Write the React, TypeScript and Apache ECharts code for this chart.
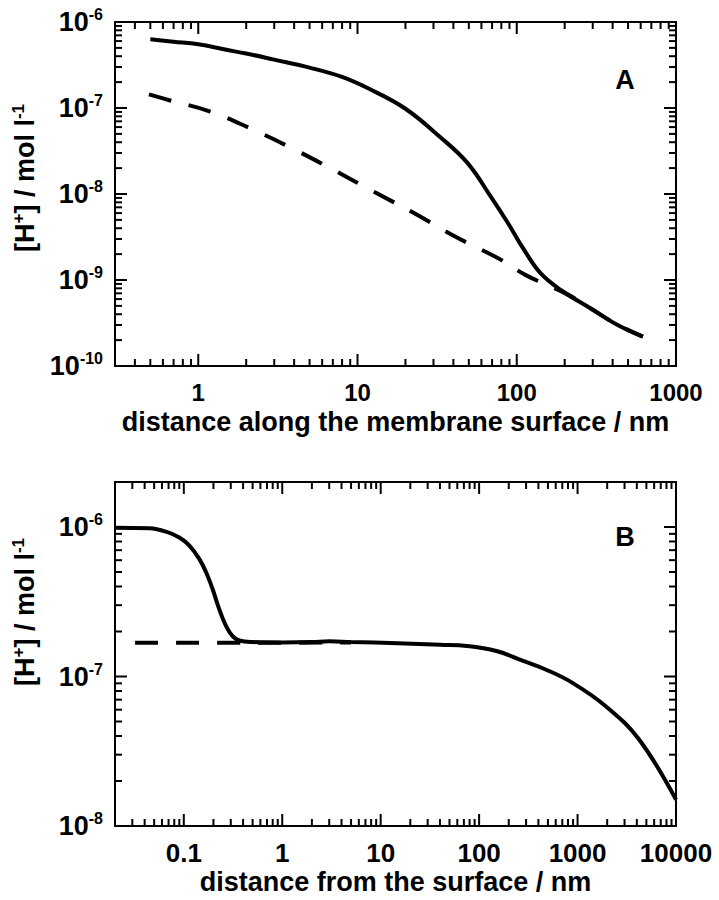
import React, { useEffect, useRef } from "react";
import * as echarts from "echarts";

const FONT = '"Liberation Sans", Arial, Helvetica, sans-serif';

// Panel A: distance along the membrane surface (nm) vs [H+] (mol/l)
const aSolidX = [0.5, 0.7, 1, 1.5, 2, 3, 5, 8, 12, 20, 33, 49, 69, 88, 111, 141, 190, 290, 430, 620];
const aSolidY = [6.3e-7, 5.9e-7, 5.5e-7, 4.75e-7, 4.3e-7, 3.65e-7, 2.95e-7, 2.3e-7, 1.65e-7, 9.8e-8, 4.6e-8, 2.3e-8, 9.2e-9, 4.6e-9, 2.25e-9, 1.2e-9, 7.6e-10, 4.7e-10, 3.0e-10, 2.2e-10];
const aDashX = [0.49, 0.65, 1.19, 2.12, 3.88, 7.1, 12.7, 22.6, 41, 76, 114, 208, 290, 430, 620];
const aDashY = [1.44e-7, 1.24e-7, 9.1e-8, 5.8e-8, 3.4e-8, 1.9e-8, 1.06e-8, 6.0e-9, 3.2e-9, 1.8e-9, 1.14e-9, 6.8e-10, 4.7e-10, 3.0e-10, 2.2e-10];

// Panel B: distance from the surface (nm) vs [H+] (mol/l)
const bSolidX = [0.02, 0.045, 0.066, 0.09, 0.114, 0.144, 0.168, 0.196, 0.229, 0.268, 0.313, 0.366, 0.5, 1, 2, 3, 5, 15, 40, 75, 150, 280, 480, 880, 1950, 4200, 10000];
const bSolidY = [9.9e-7, 9.8e-7, 9.3e-7, 8.5e-7, 7.5e-7, 6.1e-7, 5.0e-7, 3.85e-7, 2.82e-7, 2.18e-7, 1.86e-7, 1.74e-7, 1.7e-7, 1.69e-7, 1.7e-7, 1.72e-7, 1.7e-7, 1.67e-7, 1.63e-7, 1.6e-7, 1.48e-7, 1.27e-7, 1.11e-7, 9.1e-8, 6.3e-8, 3.8e-8, 1.5e-8];
const bDashX = [0.032, 0.5, 5];
const bDashY = [1.68e-7, 1.68e-7, 1.69e-7];

// Axis ranges and major ticks (decades)
const aXRange = [0.3, 1000];
const aYRange = [1e-10, 1e-6];
const bXRange = [0.02, 10000];
const bYRange = [1e-8, 2e-6];
const aXMajor = [0.1, 1, 10, 100];
const aYMajor = [1e-10, 1e-9, 1e-8, 1e-7];
const bXMajor = [0.01, 0.1, 1, 10, 100, 1000];
const bYMajor = [1e-8, 1e-7, 1e-6];

const xTitleA = "distance along the membrane surface / nm";
const xTitleB = "distance from the surface / nm";

const MAJOR_LEN = 12;
const MINOR_LEN = 7;

function zip(xs: number[], ys: number[]) {
  return xs.map((x, i) => [x, ys[i]]);
}

function tickList(majors: number[], range: number[]) {
  const out: { v: number; major: boolean }[] = [];
  const eps = 1e-9;
  majors.forEach((m) => {
    for (let k = 1; k <= 9; k++) {
      const v = m * k;
      if (v > range[0] * (1 + eps) && v < range[1] * (1 - eps)) out.push({ v, major: k === 1 });
    }
  });
  return out;
}

function xLabel(v: number) {
  const l = Math.log10(v);
  const e = Math.round(l);
  if (Math.abs(l - e) > 1e-6) return "";
  return e < 0 ? Math.pow(10, e).toFixed(-e) : String(Math.round(Math.pow(10, e)));
}

function yLabel(v: number) {
  const l = Math.log10(v);
  const e = Math.round(l);
  if (Math.abs(l - e) > 1e-6) return "";
  return `{b|10}{s|${e}}`;
}

const yRich = {
  b: { fontSize: 27, fontWeight: "bold", fontFamily: FONT, color: "#000", lineHeight: 31 },
  s: { fontSize: 16, fontWeight: "bold", fontFamily: FONT, color: "#000", lineHeight: 16, verticalAlign: "top" },
};

// tick marks drawn as thin rect symbols placed on the frame, pointing inward
function xTickSeries(gi: number, majors: number[], range: number[], yRange: number[]) {
  const ticks = tickList(majors, range);
  const data: any[] = [];
  ticks.forEach((t) => {
    const len = t.major ? MAJOR_LEN : MINOR_LEN;
    data.push({ value: [t.v, yRange[0]], symbolSize: [2, len], symbolOffset: [0, -len / 2] });
    data.push({ value: [t.v, yRange[1]], symbolSize: [2, len], symbolOffset: [0, len / 2] });
  });
  return {
    type: "scatter",
    xAxisIndex: gi,
    yAxisIndex: gi,
    silent: true,
    clip: false,
    z: 5,
    symbol: "rect",
    itemStyle: { color: "#000", opacity: 1 },
    data,
  };
}

function yTickSeries(gi: number, majors: number[], range: number[], xRange: number[]) {
  const ticks = tickList(majors, range);
  const data: any[] = [];
  ticks.forEach((t) => {
    const len = t.major ? MAJOR_LEN : MINOR_LEN;
    data.push({ value: [xRange[0], t.v], symbolSize: [len, 2], symbolOffset: [len / 2, 0] });
    data.push({ value: [xRange[1], t.v], symbolSize: [len, 2], symbolOffset: [-len / 2, 0] });
  });
  return {
    type: "scatter",
    xAxisIndex: gi,
    yAxisIndex: gi,
    silent: true,
    clip: false,
    z: 5,
    symbol: "rect",
    itemStyle: { color: "#000", opacity: 1 },
    data,
  };
}

function xAxisOpt(gi: number, range: number[], name: string, fs: number) {
  return {
    type: "log",
    gridIndex: gi,
    logBase: 10,
    min: range[0],
    max: range[1],
    axisLine: { show: false },
    axisTick: { show: false },
    splitLine: { show: false },
    minorTick: { show: false },
    axisLabel: {
      interval: 0,
      margin: 14,
      color: "#000",
      fontSize: fs,
      fontWeight: "bold",
      fontFamily: FONT,
      formatter: xLabel,
    },
    name,
    nameLocation: "middle",
    nameGap: 42,
    nameTextStyle: { fontSize: 27, fontWeight: "bold", fontFamily: FONT, color: "#000" },
  };
}

function yAxisOpt(gi: number, range: number[]) {
  return {
    type: "log",
    gridIndex: gi,
    logBase: 10,
    min: range[0],
    max: range[1],
    axisLine: { show: false },
    axisTick: { show: false },
    splitLine: { show: false },
    minorTick: { show: false },
    axisLabel: {
      interval: 0,
      margin: 12,
      formatter: yLabel,
      rich: yRich,
    },
  };
}

function yTitle(x: number, y: number) {
  return {
    type: "text",
    x,
    y,
    rotation: Math.PI / 2,
    style: {
      text: "{a|[H}{s|+}{a|] / mol l}{s|-1}",
      align: "center",
      verticalAlign: "middle",
      rich: {
        a: { fontSize: 27, fontWeight: "bold", fontFamily: FONT, fill: "#000", lineHeight: 30 },
        s: { fontSize: 17, fontWeight: "bold", fontFamily: FONT, fill: "#000", lineHeight: 16, verticalAlign: "top" },
      },
    },
  };
}

function panelLetter(t: string, x: number, y: number) {
  return {
    type: "text",
    x,
    y,
    style: {
      text: t,
      fontSize: 27,
      fontWeight: "bold",
      fontFamily: FONT,
      fill: "#000",
      align: "center",
      verticalAlign: "middle",
    },
  };
}

const lineBase = { type: "line", showSymbol: false, symbol: "none", smooth: 0.4, silent: true };

export default function App() {
  const ref = useRef<HTMLDivElement>(null);
  useEffect(() => {
    document.body.style.margin = "0";
    if (!ref.current) return;
    const chart = echarts.init(ref.current, undefined, { renderer: "svg" });
    const gridStyle = { show: true, borderColor: "#000", borderWidth: 2, backgroundColor: "transparent", containLabel: false };
    chart.setOption({
      animation: false,
      backgroundColor: "#fff",
      grid: [
        { ...gridStyle, left: 115, top: 22, width: 561, height: 344 },
        { ...gridStyle, left: 115, top: 482, width: 561, height: 344 },
      ],
      xAxis: [xAxisOpt(0, aXRange, xTitleA, 24), xAxisOpt(1, bXRange, xTitleB, 26)],
      yAxis: [yAxisOpt(0, aYRange), yAxisOpt(1, bYRange)],
      series: [
        { ...lineBase, xAxisIndex: 0, yAxisIndex: 0, data: zip(aDashX, aDashY), lineStyle: { color: "#000", width: 4, type: [23, 18] } },
        { ...lineBase, xAxisIndex: 0, yAxisIndex: 0, data: zip(aSolidX, aSolidY), lineStyle: { color: "#000", width: 4 } },
        { ...lineBase, xAxisIndex: 1, yAxisIndex: 1, data: zip(bDashX, bDashY), lineStyle: { color: "#000", width: 4, type: [23, 18] } },
        { ...lineBase, xAxisIndex: 1, yAxisIndex: 1, data: zip(bSolidX, bSolidY), lineStyle: { color: "#000", width: 4 } },
        xTickSeries(0, aXMajor, aXRange, aYRange),
        yTickSeries(0, aYMajor, aYRange, aXRange),
        xTickSeries(1, bXMajor, bXRange, bYRange),
        yTickSeries(1, bYMajor, bYRange, bXRange),
      ],
      graphic: [yTitle(25, 178), yTitle(25, 612), panelLetter("A", 625, 80), panelLetter("B", 625, 537)],
    });
    return () => chart.dispose();
  }, []);
  return <div ref={ref} style={{ width: 719, height: 900 }} />;
}
